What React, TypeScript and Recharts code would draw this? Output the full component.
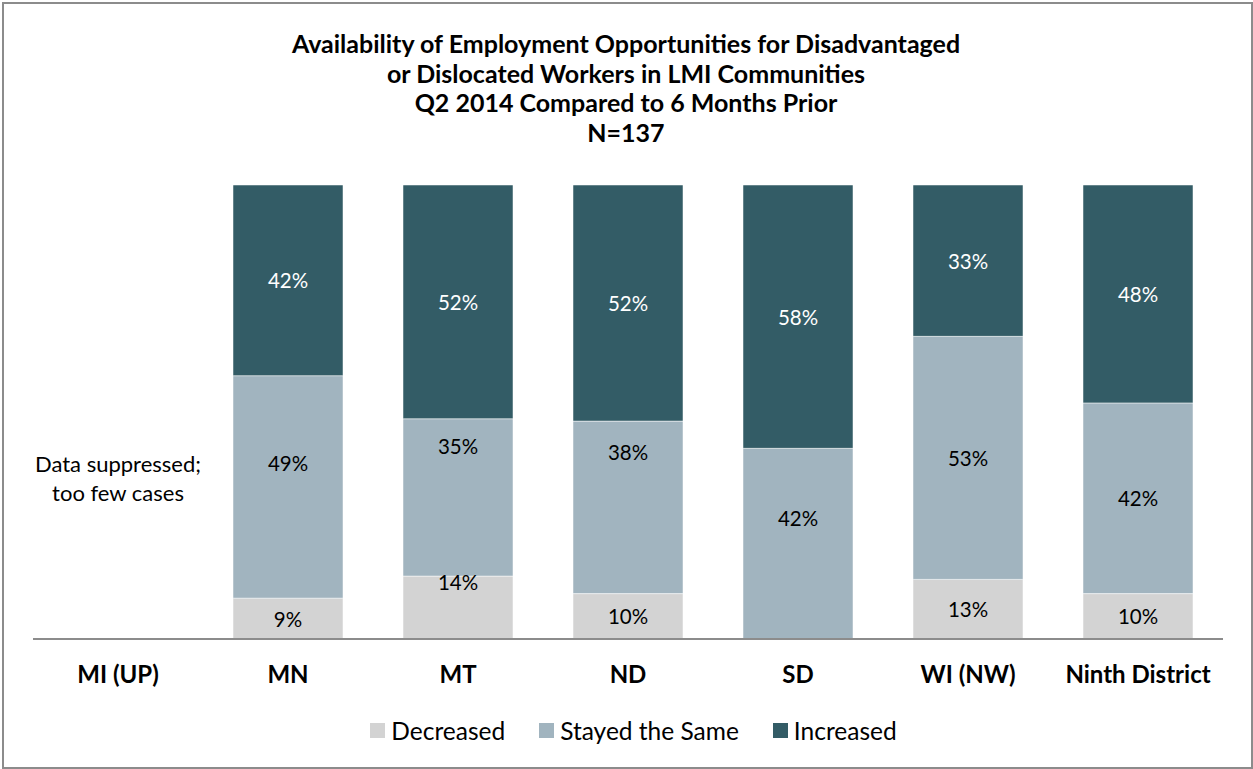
import React from 'react';
import { BarChart, Bar, XAxis, YAxis, Legend, LabelList, ReferenceDot } from 'recharts';

const regions = ['MI (UP)', 'MN', 'MT', 'ND', 'SD', 'WI (NW)', 'Ninth District'];
const decreased = [null, 9, 14, 10, 0, 13, 10];
const stayedSame = [null, 49, 35, 38, 42, 53, 42];
const increased = [null, 42, 52, 52, 58, 33, 48];

const chartData = regions.map((region, i) => ({
  region,
  decreased: decreased[i],
  stayed: stayedSame[i],
  increased: increased[i],
}));

// only regions with data get a bar (and a label)
const plotted = regions.filter((_, i) => stayedSame[i] != null);

const FONT = 'Lato, "Open Sans", sans-serif';

const colors = {
  decreased: '#d3d3d3',
  stayed: '#a1b4bf',
  increased: '#335c66',
};

const series = [
  { key: 'decreased', name: 'Decreased', color: colors.decreased },
  { key: 'stayed', name: 'Stayed the Same', color: colors.stayed },
  { key: 'increased', name: 'Increased', color: colors.increased },
];

const titleLines = [
  'Availability of Employment Opportunities for Disadvantaged',
  'or Dislocated Workers in LMI Communities',
  'Q2 2014 Compared to 6 Months Prior',
  'N=137',
];

// labels in the original were hand-placed in a few bars
const labelDy: Record<string, Record<string, number>> = {
  decreased: { MT: -26 },
  stayed: { MN: -24, MT: -51, ND: -55, SD: -26 },
  increased: {},
};

const pct = (v: any) => (v ? `${v}%` : '');

const makeLabel = (key: string, color: string) => (props: any) => {
  const { x, y, width, height, value, index } = props;
  if (!value) return null;
  const dy = labelDy[key][plotted[index]] || 0;
  return (
    <text
      x={x + width / 2}
      y={y + height / 2 + dy}
      textAnchor="middle"
      dominantBaseline="central"
      fontFamily={FONT}
      fontSize={20.5}
      fill={color}
    >
      {pct(value)}
    </text>
  );
};

const CategoryTick = (props: any) => {
  const { x, y, payload } = props;
  return (
    <text
      x={x}
      y={y + 26}
      textAnchor="middle"
      dominantBaseline="central"
      fontFamily={FONT}
      fontWeight="bold"
      fontSize={24}
      fill="#000"
    >
      {payload.value}
    </text>
  );
};

const SuppressedNote = (props: any) => {
  const { viewBox } = props;
  const cx = viewBox.x;
  const cy = viewBox.y;
  return (
    <text textAnchor="middle" fontFamily={FONT} fontSize={22} fill="#000">
      <tspan x={cx} y={cy - 12} dominantBaseline="central">Data suppressed;</tspan>
      <tspan x={cx} y={cy + 17} dominantBaseline="central">too few cases</tspan>
    </text>
  );
};

const LegendContent = () => (
  <div
    style={{
      display: 'flex',
      justifyContent: 'center',
      alignItems: 'center',
      height: 28,
      paddingLeft: 11,
      fontFamily: FONT,
      fontSize: 24.5,
      color: '#000',
    }}
  >
    {series.map((s, i) => (
      <div key={s.key} style={{ display: 'flex', alignItems: 'center', marginLeft: i ? 34 : 0 }}>
        <span style={{ display: 'inline-block', width: 15, height: 15, background: s.color, marginRight: 6 }} />
        <span>{s.name}</span>
      </div>
    ))}
  </div>
);

const App = () => {
  return (
    <div style={{ position: 'absolute', left: 0, top: 0, width: 1253, height: 769, background: '#fff' }}>
      <style>{'body{margin:0}'}</style>
      <div
        style={{
          position: 'absolute',
          left: 2,
          top: 2,
          width: 1247,
          height: 763,
          border: '2px solid #8c8c8c',
          boxSizing: 'content-box',
          pointerEvents: 'none',
        }}
      />
      <svg width={1253} height={180} style={{ position: 'absolute', left: 0, top: 0 }}>
        {titleLines.map((line, i) => (
          <text
            key={i}
            x={626}
            y={43 + i * 29.5}
            textAnchor="middle"
            dominantBaseline="central"
            fontFamily={FONT}
            fontWeight="bold"
            fontSize={25}
            fill="#000"
          >
            {line}
          </text>
        ))}
      </svg>
      <BarChart
        width={1253}
        height={769}
        data={chartData}
        stackOffset="expand"
        barSize={110}
        margin={{ top: 185, right: 30, left: 33, bottom: 25 }}
        style={{ position: 'absolute', left: 0, top: 0 }}
      >
        <XAxis
          dataKey="region"
          tickLine={false}
          axisLine={{ stroke: '#8c8c8c', strokeWidth: 2 }}
          tick={<CategoryTick />}
          height={77}
          interval={0}
        />
        <YAxis hide domain={[0, 1]} />
        <Legend verticalAlign="bottom" content={<LegendContent />} />
        {series.map((s) => (
          <Bar
            key={s.key}
            dataKey={s.key}
            name={s.name}
            stackId="a"
            fill={s.color}
            stroke="#ffffff"
            strokeWidth={0.5}
            isAnimationActive={false}
          >
            <LabelList dataKey={s.key} content={makeLabel(s.key, s.key === 'increased' ? '#fff' : '#000')} />
          </Bar>
        ))}
        <ReferenceDot x="MI (UP)" y={0.36} r={0} fill="none" stroke="none" label={<SuppressedNote />} />
      </BarChart>
    </div>
  );
};

export default App;
